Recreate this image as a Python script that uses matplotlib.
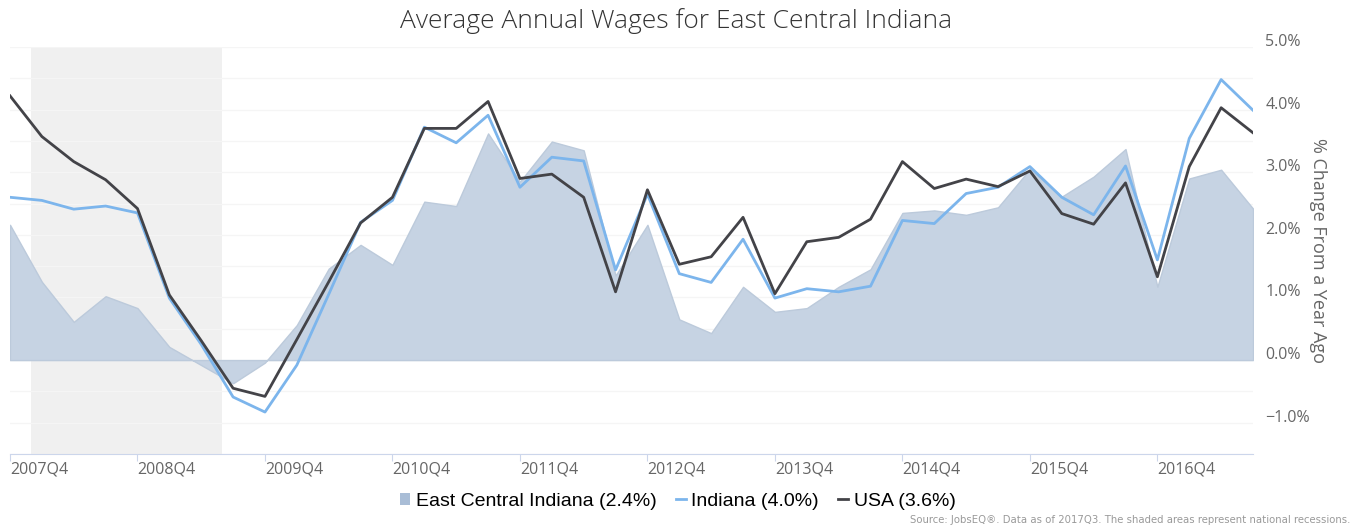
import numpy as np
import matplotlib
matplotlib.use("Agg")
import matplotlib.pyplot as plt
from matplotlib.lines import Line2D
from matplotlib.patches import Patch
from matplotlib.transforms import ScaledTranslation

# quarters 2007Q4 .. 2017Q3
quarters = [f"{y}Q{q}" for y in range(2007, 2018) for q in range(1, 5)][3:43]

east_central = [2.16, 1.25, 0.61, 1.02, 0.83, 0.21, -0.08, -0.37, -0.04, 0.56,
                1.46, 1.84, 1.52, 2.53, 2.46, 3.62, 2.85, 3.49, 3.35, 1.35,
                2.16, 0.65, 0.43, 1.17, 0.77, 0.83, 1.17, 1.45, 2.35, 2.39,
                2.32, 2.44, 3.05, 2.61, 2.93, 3.37, 1.17, 2.90, 3.04, 2.42]
indiana = [2.60, 2.55, 2.41, 2.46, 2.35, 0.99, 0.25, -0.59, -0.83, -0.08,
           1.05, 2.20, 2.55, 3.72, 3.47, 3.91, 2.76, 3.24, 3.18, 1.44,
           2.65, 1.38, 1.24, 1.93, 0.99, 1.14, 1.09, 1.18, 2.23, 2.18,
           2.66, 2.76, 3.09, 2.60, 2.32, 3.10, 1.60, 3.54, 4.48, 3.99]
usa = [4.22, 3.57, 3.17, 2.88, 2.42, 1.04, 0.31, -0.45, -0.58, 0.33,
       1.25, 2.19, 2.60, 3.70, 3.70, 4.13, 2.90, 2.97, 2.60, 1.09,
       2.72, 1.53, 1.65, 2.28, 1.06, 1.89, 1.96, 2.25, 3.17, 2.74,
       2.89, 2.77, 3.02, 2.34, 2.17, 2.83, 1.33, 3.09, 4.03, 3.63]

# recession Dec 2007 - Jun 2009, in quarter units from 2007Q4
recession = (2 / 3, 6 + 2 / 3)

x = np.arange(len(quarters))

fig = plt.figure(figsize=(13.56, 5.29), dpi=100)
ax = fig.add_axes([10 / 1356, 1 - 454 / 529, (1253 - 10) / 1356, (454 - 47) / 529])

ax.axvspan(recession[0], recession[1], color="#f0f0f0", lw=0, zorder=0)
ax.fill_between(x, 0, east_central, color="#c6d3e3", edgecolor="#bccadb", lw=1, zorder=2)
ax.plot(x, indiana, color="#7cb5ec", lw=2, zorder=3)
ax.plot(x, usa, color="#434348", lw=2, zorder=4)

ax.set_xlim(0, len(quarters) - 1)
ax.set_ylim(-1.5, 5.0)

# grid
ax.set_yticks(np.arange(-1, 5.01, 1))
ax.set_yticks(np.arange(-1.5, 5.01, 0.5), minor=True)
ax.grid(axis="y", which="both", color="#f5f5f5", lw=1, zorder=1)
ax.set_axisbelow(True)

ax.yaxis.tick_right()
ax.yaxis.set_label_position("right")
ax.set_yticklabels([f"{v:.1f}%".replace("-", "\u2212") for v in np.arange(-1, 5.01, 1)])
ax.tick_params(axis="y", which="both", length=0, pad=9, labelsize=11.5, labelcolor="#666666")
for lab in ax.get_yticklabels():
    lab.set_fontfamily("Open Sans")
    lab.set_transform(lab.get_transform() + ScaledTranslation(0, 0.07, fig.dpi_scale_trans))
ax.set_ylabel("% Change From a Year Ago", rotation=270, color="#666666", fontsize=13,
              family="Open Sans", labelpad=12)

ticks = x[::4]
ax.set_xticks(ticks)
ax.set_xticklabels([quarters[i] for i in ticks], ha="left", family="Open Sans")
ax.tick_params(axis="x", length=5, color="#ccd6eb", labelsize=11.5, labelcolor="#666666", pad=0.5)

for s in ["top", "left", "right"]:
    ax.spines[s].set_visible(False)
ax.spines["bottom"].set_color("#ccd6eb")

fig.text(0.4985, 0.96, "Average Annual Wages for East Central Indiana", ha="center", va="center",
         fontsize=19, color="#333333", family="Open Sans", fontweight="light")

handles = [Patch(facecolor="#a9bdd6", edgecolor="none"),
           Line2D([], [], color="#7cb5ec", lw=2),
           Line2D([], [], color="#434348", lw=2)]
labels = ["East Central Indiana (2.4%)", "Indiana (4.0%)", "USA (3.6%)"]
fig.legend(handles, labels, loc="center", bbox_to_anchor=(0.5, 0.052), ncol=3, frameon=False,
           handlelength=0.5, handleheight=0.6, handletextpad=0.3, columnspacing=1.0,
           prop={"family": ["Liberation Sans Narrow", "Liberation Sans"], "size": 14})

fig.text(0.996, 0.008, "Source: JobsEQ\u00ae. Data as of 2017Q3. The shaded areas represent national recessions.",
         ha="right", va="bottom", fontsize=7.3, color="#999999", family="Liberation Sans Narrow")

fig.savefig("out.png", dpi=100)
